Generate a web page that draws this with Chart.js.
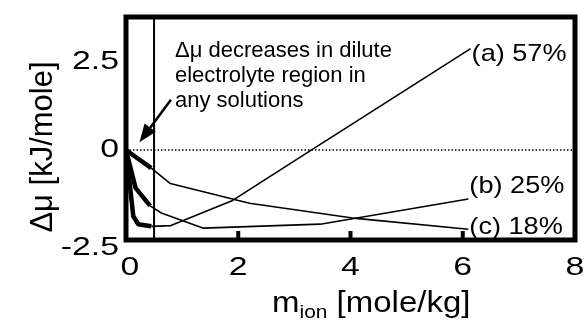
<!DOCTYPE html>
<html>
<head>
<meta charset="UTF-8">
<title>Delta mu vs m_ion</title>
<style>
body { margin: 0; background: #fff; }
div.wrap { width: 585px; height: 322px; position: relative; }
</style>
<script src="https://cdn.jsdelivr.net/npm/chart.js@4.4.1/dist/chart.umd.min.js"></script>
</head>
<body>
<div class="wrap"><canvas id="canvas"></canvas></div>
<script>
// values (x: m_ion in mole/kg, y: delta mu in kJ/mole)
const xA = [0, 0.13, 0.22, 0.45, 0.8, 1.9, 3.3, 6.14]
const yA = [0, -1.84, -2.06, -2.12, -2.1, -1.4, 0, 2.82]
const xB = [0, 0.17, 0.43, 0.63, 1.38, 3.46, 6.1]
const yB = [0, -1.05, -1.55, -1.75, -2.17, -2.06, -1.36]
const xC = [0, 0.45, 0.79, 2.2, 4.1, 6.1]
const yC = [0, -0.5, -0.93, -1.48, -1.9, -2.2]
const seriesLabels = ["(a) 57%", "(b) 25%", "(c) 18%"]
const xTicks = [0, 2, 4, 6, 8]
const yTicks = [-2.5, 0, 2.5]
const diluteLimit = 0.5
const noteLines = ["\u0394\u03bc decreases in dilute", "electrolyte region in", "any solutions"]

const FONT = '"Liberation Sans", Arial, sans-serif'

function pts(xs, ys) {
    return xs.map((x, i) => ({x: x, y: ys[i]}))
}

function txt(ctx, s, x, y, size, sx, align, base) {
    ctx.save()
    ctx.translate(x, y)
    ctx.scale(sx, 1)
    ctx.font = size + "px " + FONT
    ctx.textAlign = align
    ctx.textBaseline = base
    ctx.fillStyle = "#000"
    ctx.fillText(s, 0, 0)
    ctx.restore()
}

function curve(xs, ys) {
    return {
        data: pts(xs, ys),
        borderColor: "#000",
        borderWidth: 1.6,
        pointRadius: 0,
        tension: 0,
        borderJoinStyle: "round",
        segment: {borderWidth: c => c.p1.parsed.x <= diluteLimit ? 4.5 : 1.6},
    }
}

const decor = {
    id: "decor",
    afterDraw(chart) {
        const ctx = chart.ctx
        const a = chart.chartArea
        const sx = chart.scales.x, sy = chart.scales.y

        // frame
        ctx.save()
        ctx.strokeStyle = "#000"
        ctx.lineWidth = 5
        ctx.strokeRect(a.left, a.top, a.right - a.left, a.bottom - a.top)

        // inward ticks
        ctx.fillStyle = "#000"
        xTicks.slice(1, -1).forEach(v => {
            const px = sx.getPixelForValue(v)
            ctx.fillRect(px - 2, a.bottom - 9, 4, 9)
        })
        yTicks.slice(1, -1).forEach(v => {
            if (v === 0) return
            const py = sy.getPixelForValue(v)
            ctx.fillRect(a.left, py - 2.5, 9, 5)
        })

        // arrow
        const tx = sx.getPixelForValue(0.24), ty = sy.getPixelForValue(0.22)
        const fx = sx.getPixelForValue(0.8), fy = sy.getPixelForValue(1.4)
        const ang = Math.atan2(ty - fy, tx - fx)
        const hl = 18, hw = 7
        const bx = tx - hl * Math.cos(ang), by = ty - hl * Math.sin(ang)
        ctx.lineWidth = 2.5
        ctx.beginPath()
        ctx.moveTo(fx, fy)
        ctx.lineTo(bx, by)
        ctx.stroke()
        ctx.beginPath()
        ctx.moveTo(tx, ty)
        ctx.lineTo(bx + hw * Math.sin(ang), by - hw * Math.cos(ang))
        ctx.lineTo(bx - hw * Math.sin(ang), by + hw * Math.cos(ang))
        ctx.closePath()
        ctx.fill()
        ctx.restore()

        // tick labels
        yTicks.forEach(v => {
            let py = sy.getPixelForValue(v)
            if (v === yTicks[0]) py += 8
            else if (v > 0) py += 2
            txt(ctx, String(v), 119, py, 26, 1.3, "right", "middle")
        })
        xTicks.forEach(v => {
            let px = sx.getPixelForValue(v)
            if (v === 0) px += 4
            txt(ctx, String(v), px, 268, 26, 1.3, "center", "middle")
        })

        // axis titles
        ctx.save()
        ctx.translate(52, 147)
        ctx.rotate(-Math.PI / 2)
        ctx.font = "31px " + FONT
        ctx.textAlign = "center"
        ctx.textBaseline = "alphabetic"
        ctx.fillStyle = "#000"
        ctx.fillText("\u0394\u03bc [kJ/mole]", 0, 0)
        ctx.restore()

        ctx.save()
        ctx.font = "30px " + FONT
        const w1 = ctx.measureText("m").width
        ctx.font = "19px " + FONT
        const w2 = ctx.measureText("ion").width
        ctx.restore()
        const s = 1.1
        const x0 = 272
        txt(ctx, "m", x0, 312, 30, s, "left", "alphabetic")
        txt(ctx, "ion", x0 + w1 * s, 318, 19, s, "left", "alphabetic")
        txt(ctx, " [mole/kg]", x0 + (w1 + w2) * s, 312, 30, s, "left", "alphabetic")

        // note
        noteLines.forEach((l, i) => {
            txt(ctx, l, 175, 57 + i * 25, 22, 1.0, "left", "alphabetic")
        })

        // series labels at curve ends
        const ends = [[xA, yA, 12], [xB, yB, -6], [xC, yC, 5]]
        ends.forEach((e, i) => {
            const px = sx.getPixelForValue(e[0][e[0].length - 1])
            const py = sy.getPixelForValue(e[1][e[1].length - 1])
            txt(ctx, seriesLabels[i], px + 1, py + e[2], 24, 1.13, "left", "alphabetic")
        })
    },
}

const chart = new Chart(document.getElementById("canvas"), {
    type: "line",
    data: {
        datasets: [
            curve(xA, yA),
            curve(xB, yB),
            curve(xC, yC),
            {
                data: pts([0, 8], [0, 0]),
                borderColor: "#000",
                borderWidth: 1.5,
                borderDash: [1.5, 2],
                pointRadius: 0,
            },
            {
                data: pts([diluteLimit, diluteLimit], [-2.5, 3.7]),
                borderColor: "#000",
                borderWidth: 2,
                pointRadius: 0,
            },
        ],
    },
    options: {
        responsive: true,
        maintainAspectRatio: false,
        animation: false,
        layout: {padding: {left: 126, right: 10, top: 17, bottom: 82}},
        plugins: {legend: {display: false}, tooltip: {enabled: false}},
        scales: {
            x: {type: "linear", min: 0, max: 8, display: false},
            y: {type: "linear", min: -2.5, max: 3.7, display: false},
        },
    },
    plugins: [decor],
})
</script>
</body>
</html>
